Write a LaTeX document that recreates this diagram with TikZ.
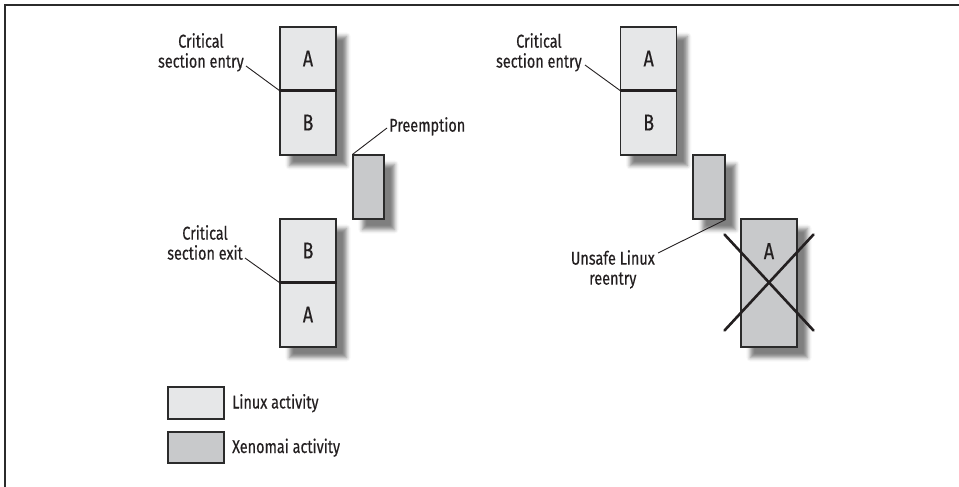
\documentclass[tikz,border=0pt]{standalone}
\usepackage{fontspec}
\setmainfont[FakeStretch=0.78,FakeBold=0.4]{Fira Sans}
\usetikzlibrary{shadows.blur,backgrounds,calc}
\definecolor{linuxfill}{HTML}{E6E7E8}
\definecolor{xenofill}{HTML}{C8C9CB}
\definecolor{edge}{HTML}{2B2B2B}
\definecolor{ink}{HTML}{231F20}
\begin{document}
\begin{tikzpicture}[x=1pt,y=-1pt,
  box/.style={draw=edge, line width=1.1pt, minimum width=56pt, inner sep=0pt,
              font=\fontsize{23}{23}\selectfont, text=ink},
  linuxbox/.style={box, fill=linuxfill},
  xenobox/.style={box, fill=xenofill},
  shadowbox/.style={fill=white, blur shadow={shadow xshift=10pt, shadow yshift=-10pt,
              shadow blur radius=4pt, shadow opacity=50}},
  lbl/.style={font=\fontsize{18.5}{20}\selectfont, text=ink, align=center, inner sep=0pt},
  leader/.style={draw=ink, line width=0.9pt},
  divider/.style={draw=ink, line width=2.4pt},
  cross/.style={draw=ink, line width=2.6pt, line cap=round},
]
\useasboundingbox (0,0) rectangle (959,487);
\draw[edge, line width=1.5pt] (5,487) -- (5,5) -- (959,5);

% ---- left diagram
\node[linuxbox, minimum height=63pt] (LA) at (308,58.5) {A};
\node[linuxbox, minimum height=65pt] (LB) at (308,122.5) {B};
\node[xenobox, minimum width=31pt, minimum height=64pt] (P) at (368.5,187) {};
\node[linuxbox, minimum height=63pt] (LB2) at (308,250.5) {B};
\node[linuxbox, minimum height=65pt] (LA2) at (308,314.5) {A};
\draw[divider] (LA.south west) -- (LA.south east);
\draw[divider] (LB2.south west) -- (LB2.south east);

\node[lbl, anchor=north east] (ent1) at (244,33) {Critical\\section entry};
\node[lbl, anchor=north east] (exit1) at (243,225) {Critical\\section exit};
\node[lbl, anchor=north west] (pre) at (389,117) {Preemption};
\coordinate (c1) at (246,66);
\coordinate (c2) at (245,258);
\coordinate (c3) at (387,128);
\draw[leader] (c1) -- (LA.south west);
\draw[leader] (c2) -- (LB2.south west);
\draw[leader] (c3) -- (P.north west);

% ---- right diagram
\node[linuxbox, minimum height=63pt] (RA) at (648.7,58.5) {A};
\node[linuxbox, minimum height=65pt] (RB) at (648.7,122.5) {B};
\node[xenobox, minimum width=32pt, minimum height=64pt] (RX) at (709,187) {};
\node[xenobox, minimum height=128pt, text height=15pt, text depth=63pt] (RBig) at (769,283) {A};
\draw[divider] (RA.south west) -- (RA.south east);
\draw[cross] ($(RBig.north west)+(-16,16)$) -- ($(RBig.south east)+(16,-17)$);
\draw[cross] ($(RBig.south west)+(-16,-17)$) -- ($(RBig.north east)+(16,16)$);

\node[lbl, anchor=north east] (ent2) at (582,33) {Critical\\section entry};
\node[lbl, anchor=north east] (uns) at (655,250) {Unsafe Linux\\reentry};
\coordinate (c4) at (585,65);
\coordinate (c5) at (658,253);
\draw[leader] (c4) -- (RA.south west);
\draw[leader] (c5) -- (RX.south east);

% ---- legend
\node[linuxbox, minimum height=32pt] (K1) at (196,403) {};
\node[xenobox, minimum height=31pt] (K2) at (196,447.5) {};
\node[lbl, anchor=base west] (k1t) at (232,408.5) {Linux activity};
\node[lbl, anchor=base west] (k2t) at (232,453) {Xenomai activity};

% ---- shadows
\begin{scope}[on background layer]
\path[shadowbox] (LA.north west) rectangle (LB.south east);
\path[shadowbox] (P.north west) rectangle (P.south east);
\path[shadowbox] (LB2.north west) rectangle (LA2.south east);
\path[shadowbox] (RA.north west) rectangle (RB.south east);
\path[shadowbox] (RX.north west) rectangle (RX.south east);
\path[shadowbox] (RBig.north west) rectangle (RBig.south east);
\end{scope}
\end{tikzpicture}
\end{document}
